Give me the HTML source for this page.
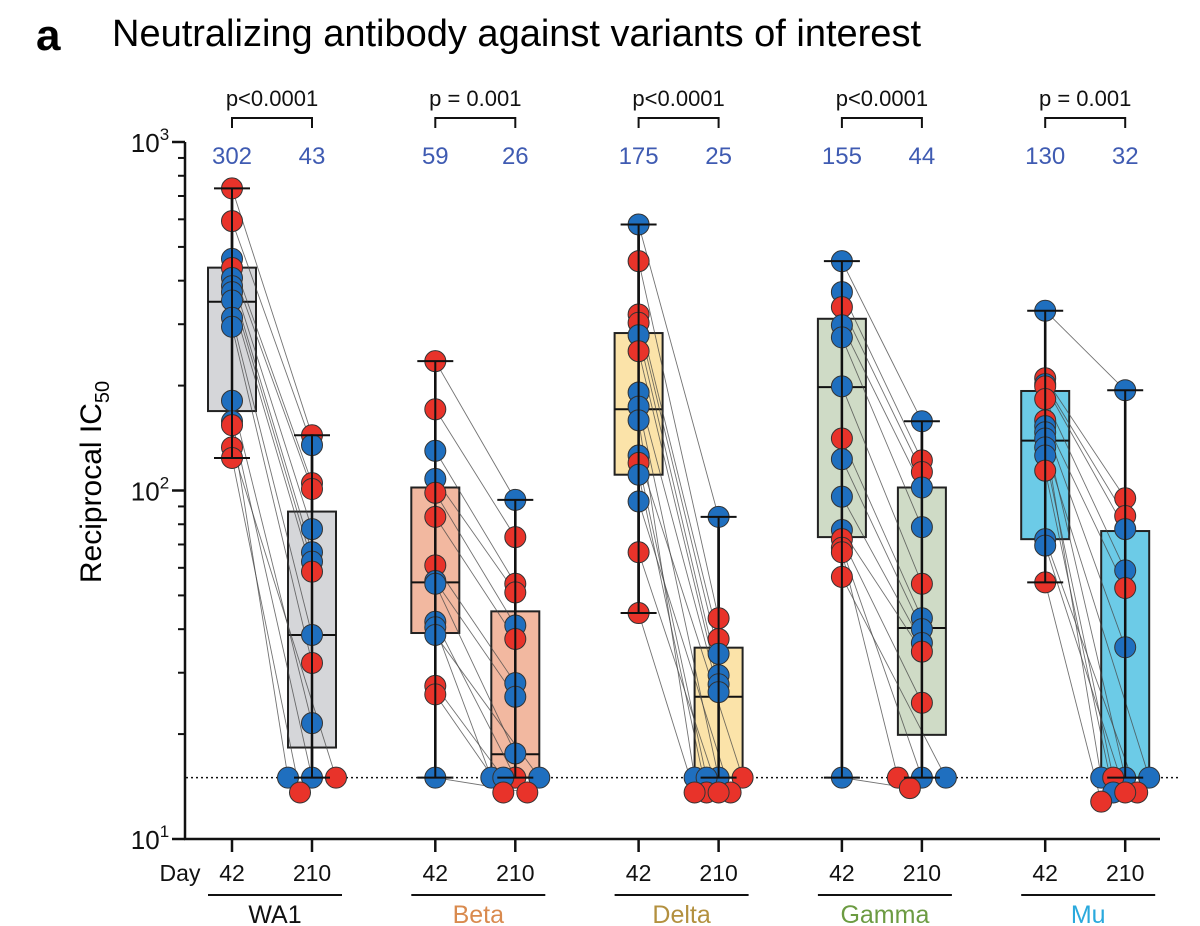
<!DOCTYPE html>
<html><head><meta charset="utf-8"><style>
body{margin:0;background:#fff;}
svg{display:block;font-family:"Liberation Sans",Arial,sans-serif;}
</style></head><body>
<svg id="chart" width="1200" height="926" viewBox="0 0 1200 926">
<text x="36" y="50" font-size="44" font-weight="bold">a</text>
<text x="112" y="46" font-size="38">Neutralizing antibody against variants of interest</text>
<g id="plot"></g>
</svg>
<script>
const variants = ["WA1","Beta","Delta","Gamma","Mu"];
const pLabels = ["p<0.0001","p = 0.001","p<0.0001","p<0.0001","p = 0.001"];
const gmt42 = [302,59,175,155,130];
const gmt210 = [43,26,25,44,32];
const day42 = [
 [736,593,462,435,407,386,371,351,313,295,181,158,154,133,124],
 [235,171,130,108,98.5,84,61,55,54,42,40.5,38.5,27.5,26,15],
 [580,455,320,303,279,251,191,174,159,126,120,111,93,66.5,44.5],
 [455,371,336,298,275,199,141,123,96,77,72.5,68.5,66.5,56.5,15],
 [328,210,202,199,183,159,153,147,141,133,126,114,72.5,69.5,54.5]
];
const day42Colors = [
 "rrbrbbbbbbbbrrr","rrbbrrrbbbbbrrb","brrrbrbbbbrbbrr","bbrbbbrbbbrrrrb","brbrrrbbbbbrbbr"
];
const day210 = [
 [144,135,105,101,77.5,66.5,62.5,58.5,38.5,32,21.5,15,15,15,13.6],
 [94,73.5,54,51,41,37.5,28,25.6,17.6,15,15,15,15,13.6,13.6],
 [84,43,37.5,34,29.5,27.8,26.4,15,15,15,15,13.6,13.6,13.6,13.6],
 [158,122,113,102,78.5,54,43,40,36.5,34.5,24.6,15,15,15,14.0],
 [194,95,84.5,77.5,59,52.5,35.5,15,15,15,15,13.6,13.6,13.6,12.8]
];
const day210Colors = [
 "rbrrbbbrbrbbbrr","brrrbrbbbrbbbrr","brrbbbbbbrbrrrr","brrbbrbbbrrbrbr","brrbbrbbbbrbrrr"
];
const box42 = [[124,169,348,436,736],[15,39,54.5,102,235],[44.5,111,171,283,580],[15,73.5,198,311,455],[54.5,72.5,139,193,328]];
const box210 = [[15,18.3,38.5,87,144],[15,15,17.5,45,94],[15,15,25.6,35.4,84],[15,19.9,40.3,102,158],[15,15,15,76.5,194]];
const fills = ["#d5d6d9","#f2b8a0","#fbe3a9","#cfdbc6","#6ccbe7"];
const nameColors = ["#111","#d98a4e","#b3903f","#6c9b42","#2aa9dd"];
const yTicks = [10,100,1000];
const yTickExp = ["1","2","3"];
const LOD = 15;

const NS="http://www.w3.org/2000/svg";
const g=document.getElementById('plot');
function y(v){return 839-348.5*Math.log10(v/10);}
function gx(i,d){return 232+i*203.3+(d?80:0);}
function mk(tag,attrs,parent){const e=document.createElementNS(NS,tag);for(const k in attrs)e.setAttribute(k,attrs[k]);(parent||g).appendChild(e);return e;}
function txt(x,yy,s,size,fill,anchor){const t=mk('text',{x:x,y:yy,'font-size':size,fill:fill||'#111','text-anchor':anchor||'middle'});t.textContent=s;return t;}

let ax=mk('line',{x1:185,y1:y(1000),x2:185,y2:839,stroke:'#111','stroke-width':2.5});


let xa=mk('line',{x1:184,y1:839,x2:1160,y2:839,stroke:'#111','stroke-width':2.5});


for(let d=1;d<=2;d++)for(let m=2;m<=9;m++){const v=m*Math.pow(10,d);mk('line',{x1:178,x2:185,y1:y(v),y2:y(v),stroke:'#111','stroke-width':2});}
yTicks.forEach((v,i)=>{mk('line',{x1:172,x2:185,y1:y(v),y2:y(v),stroke:'#111','stroke-width':2.5});
 const t=txt(150,y(v)+10,'10',26,'#111','middle');
 
 
 const s=mk('tspan',{dy:-12,'font-size':17});s.textContent=yTickExp[i];t.appendChild(s);});
let yl=mk('text',{x:0,y:0,'font-size':30,'text-anchor':'middle',transform:'translate(101,482) rotate(-90)'});


yl.textContent='Reciprocal IC';
let sub=mk('tspan',{dy:8,'font-size':20},yl);sub.textContent='50';
let lod=mk('line',{x1:186,x2:1178,y1:y(LOD),y2:y(LOD),stroke:'#111','stroke-width':1.5,'stroke-dasharray':'2,3'});


let dl=txt(180,881,'Day',23,'#111','middle');



function drawBox(x,b,fill,name){
 const gg=mk('g',{});
 
 
 mk('line',{x1:x,x2:x,y1:y(b[0]),y2:y(b[4]),stroke:'#111','stroke-width':2.5},gg);
 mk('rect',{x:x-24,y:y(b[3]),width:48,height:y(b[1])-y(b[3]),fill:fill,stroke:'#222','stroke-width':2},gg);
 mk('line',{x1:x-24,x2:x+24,y1:y(b[2]),y2:y(b[2]),stroke:'#111','stroke-width':2},gg);
}
function offs(arr){const o=[0,-24,24,-12,12,-36];let k=0,k2=0;return arr.map(v=>{if(v<LOD-0.5){return [-12,12,0,-24,24][k2++%5];}if(v<=LOD+0.5)return o[k++%6];return 0;});}

variants.forEach((nm,i)=>{
 const x1=gx(i,0),x2=gx(i,1);
 drawBox(x1,box42[i],fills[i],'box-'+nm.toLowerCase()+'-day42');
 drawBox(x2,box210[i],fills[i],'box-'+nm.toLowerCase()+'-day210');
 const o1=offs(day42[i]),o2=offs(day210[i]);
 day42[i].forEach((v,j)=>{const w=day210[i][j];
  const l=mk('line',{x1:x1+o1[j],y1:y(v),x2:x2+o2[j],y2:y(w),stroke:'#444','stroke-width':0.9,opacity:0.75});
  
  });
 [[x1,box42[i]],[x2,box210[i]]].forEach(([x,b])=>{mk('line',{x1:x,x2:x,y1:y(b[0]),y2:y(b[4]),stroke:'#111','stroke-width':2.5});});
 day42[i].forEach((v,j)=>{const c=mk('circle',{cx:x1+o1[j],cy:y(v),r:10.5,fill:day42Colors[i][j]=='r'?'#e8332a':'#1f6fbf',stroke:'#333','stroke-width':1});
  
  });
 day210[i].forEach((v,j)=>{const c=mk('circle',{cx:x2+o2[j],cy:y(v),r:10.5,fill:day210Colors[i][j]=='r'?'#e8332a':'#1f6fbf',stroke:'#333','stroke-width':1});
  
  });
 [[x1,box42[i]],[x2,box210[i]]].forEach(([x,b])=>{[0,4].forEach(k=>mk('line',{x1:x-18,x2:x+18,y1:y(b[k]),y2:y(b[k]),stroke:'#111','stroke-width':2}));mk('line',{x1:x,x2:x,y1:y(b[0]),y2:y(b[4]),stroke:'#111','stroke-width':2});});
 const p=txt((x1+x2)/2,106,pLabels[i],22,'#111');
 
 
 mk('path',{d:`M${x1} 128 V118 H${x2} V128`,fill:'none',stroke:'#111','stroke-width':2});
 const a=txt(x1,164,String(gmt42[i]),24,'#3f5bb2');
 
 
 const b=txt(x2,164,String(gmt210[i]),24,'#3f5bb2');
 
 
 mk('line',{x1:x1,x2:x1,y1:839,y2:852,stroke:'#111','stroke-width':2.5});
 mk('line',{x1:x2,x2:x2,y1:839,y2:852,stroke:'#111','stroke-width':2.5});
 const t1=txt(x1,881,'42',23,'#111');
 
 
 const t2=txt(x2,881,'210',23,'#111');
 
 
 mk('line',{x1:x1-24,x2:x2+30,y1:895,y2:895,stroke:'#111','stroke-width':2});
 const n=txt((x1+x2)/2+3,923,nm,25,nameColors[i]);
 
 
});
</script>
</body></html>
